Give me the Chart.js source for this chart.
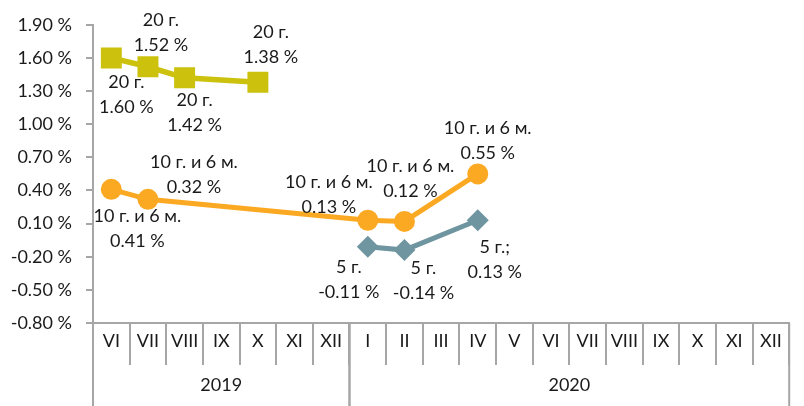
<!DOCTYPE html>
<html>
<head>
<meta charset="utf-8">
<script src="https://cdn.jsdelivr.net/npm/chart.js@4"></script>
<style>
  html, body { margin: 0; padding: 0; background: #fff; }
  #wrap { width: 804px; height: 406px; }
</style>
</head>
<body>
<div id="wrap"><canvas id="chart" width="804" height="406"></canvas></div>
<script>
// Categories (months) and the years they belong to
const months = ['VI', 'VII', 'VIII', 'IX', 'X', 'XI', 'XII',
                'I', 'II', 'III', 'IV', 'V', 'VI', 'VII', 'VIII', 'IX', 'X', 'XI', 'XII'];
const years = ['2019', '2020'];
const monthsInYear = [7, 12];

// Series values (%), null where there is no point
const yield20 = [1.60, 1.52, 1.42, null, 1.38, null, null,
                 null, null, null, null, null, null, null, null, null, null, null, null];
const yield10_6 = [0.41, 0.32, null, null, null, null, null,
                   0.13, 0.12, null, 0.55, null, null, null, null, null, null, null, null];
const yield5 = [null, null, null, null, null, null, null,
                -0.11, -0.14, null, 0.13, null, null, null, null, null, null, null, null];

// Label text per series (first line of each data label)
const labelNames = ['20 г.', '10 г. и 6 м.', '5 г.'];
const labelNameOverrides = [{}, {}, { 10: '5 г.;' }];

// y axis ticks
const yMin = -0.8, yMax = 1.9, yStep = 0.3;

// Data label offsets (px from point, centre of the two-line block)
const labelOffsets = [
    { 0: [15, 37], 1: [13, -34], 2: [10, 35], 4: [13, -38] },
    { 0: [26, 39], 1: [46, -25], 7: [-39, -26], 8: [6, -43], 10: [10, -33] },
    { 7: [-19, 33], 8: [19, 31], 10: [17, 39] }
];

const FONT = 'Lato, "Open Sans", sans-serif';
const FONT_SIZE = 18;
const AXIS_COLOR = '#a6a6a6';
const TEXT_COLOR = '#1a1a1a';

const dataLabels = {
    id: 'dataLabels',
    afterDatasetsDraw(chart) {
        const ctx = chart.ctx;
        ctx.save();
        ctx.font = FONT_SIZE + 'px ' + FONT;
        ctx.fillStyle = TEXT_COLOR;
        ctx.textAlign = 'center';
        ctx.textBaseline = 'middle';
        chart.data.datasets.forEach((ds, di) => {
            const meta = chart.getDatasetMeta(di);
            ds.data.forEach((v, i) => {
                if (v === null) return;
                const pt = meta.data[i];
                const off = labelOffsets[di][i] || [0, -30];
                const cx = pt.x + off[0];
                const cy = pt.y + off[1];
                const name = labelNameOverrides[di][i] || labelNames[di];
                ctx.fillText(name, cx, cy - 12.5);
                ctx.fillText(v.toFixed(2) + ' %', cx, cy + 12.5);
            });
        });
        ctx.restore();
    }
};

const yearAxis = {
    id: 'yearAxis',
    afterDraw(chart) {
        const ctx = chart.ctx;
        const x = chart.scales.x;
        const w = x.width / months.length;
        const top = chart.chartArea.bottom;
        const bottom = chart.height;
        ctx.save();
        ctx.strokeStyle = AXIS_COLOR;
        ctx.lineWidth = 2;
        ctx.font = FONT_SIZE + 'px ' + FONT;
        ctx.fillStyle = TEXT_COLOR;
        ctx.textAlign = 'center';
        ctx.textBaseline = 'middle';
        let start = 0;
        years.forEach((yr, k) => {
            const left = x.getPixelForValue(start) - w / 2;
            const right = x.getPixelForValue(start + monthsInYear[k] - 1) + w / 2;
            ctx.beginPath();
            ctx.moveTo(left, top);
            ctx.lineTo(left, bottom);
            ctx.moveTo(right, top);
            ctx.lineTo(right, bottom);
            ctx.stroke();
            ctx.fillText(yr, (left + right) / 2, 385);
            start += monthsInYear[k];
        });
        ctx.restore();
    }
};

new Chart(document.getElementById('chart'), {
    type: 'line',
    data: {
        labels: months,
        datasets: [
            {
                label: labelNames[0],
                data: yield20,
                borderColor: '#ccc10c',
                backgroundColor: '#ccc10c',
                borderWidth: 5.5,
                pointBorderWidth: 0,
                pointStyle: 'rect',
                pointRadius: 14.8,
                spanGaps: true
            },
            {
                label: labelNames[1],
                data: yield10_6,
                borderColor: '#fba922',
                backgroundColor: '#fba922',
                borderWidth: 5,
                pointBorderWidth: 0,
                pointStyle: 'circle',
                pointRadius: 10.5,
                spanGaps: true
            },
            {
                label: labelNames[2],
                data: yield5,
                borderColor: '#6f95a0',
                backgroundColor: '#6f95a0',
                borderWidth: 5,
                pointBorderWidth: 0,
                pointStyle: 'rectRot',
                pointRadius: 11,
                spanGaps: true
            }
        ]
    },
    options: {
        responsive: false,
        animation: false,
        layout: { padding: { top: 22, right: 1, left: 0, bottom: 0 } },
        plugins: {
            legend: { display: false },
            tooltip: { enabled: false }
        },
        scales: {
            x: {
                type: 'category',
                offset: true,
                afterFit(scale) { scale.height = 83; },
                border: { color: AXIS_COLOR, width: 2 },
                grid: {
                    offset: true,
                    drawOnChartArea: false,
                    tickLength: 42,
                    color: AXIS_COLOR,
                    lineWidth: 2
                },
                ticks: {
                    autoSkip: false,
                    maxRotation: 0,
                    padding: -35,
                    color: TEXT_COLOR,
                    font: { family: FONT, size: FONT_SIZE }
                }
            },
            y: {
                min: yMin,
                max: yMax,
                afterFit(scale) { scale.width = 93; },
                border: { color: AXIS_COLOR, width: 2 },
                grid: {
                    drawOnChartArea: false,
                    tickLength: 7,
                    color: AXIS_COLOR,
                    lineWidth: 2
                },
                ticks: {
                    stepSize: yStep,
                    padding: 14,
                    color: TEXT_COLOR,
                    font: { family: FONT, size: FONT_SIZE },
                    callback: (v) => v.toFixed(2) + ' %'
                }
            }
        }
    },
    plugins: [dataLabels, yearAxis]
});
</script>
</body>
</html>
